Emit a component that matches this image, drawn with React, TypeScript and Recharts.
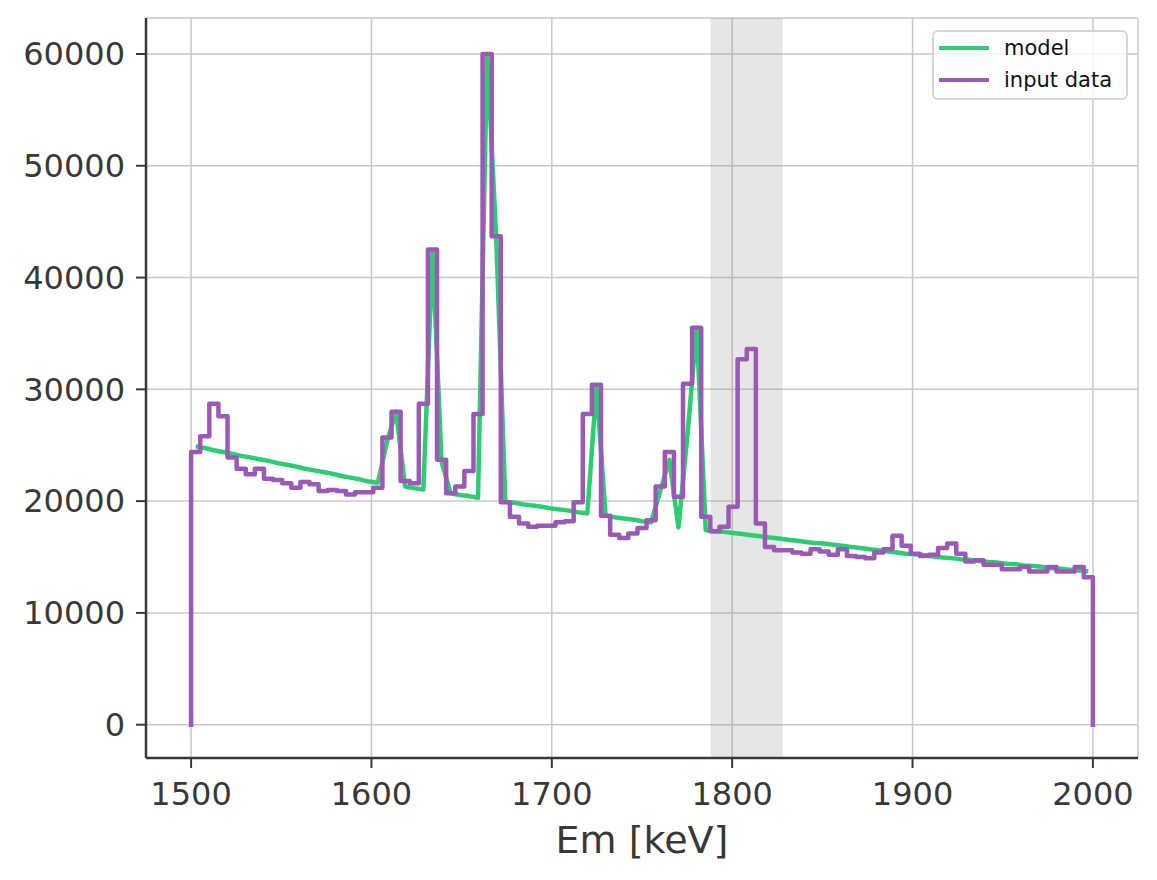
import { LineChart, Line, XAxis, YAxis, CartesianGrid, ReferenceArea } from 'recharts';

// 99 equal bins between 1500 and 2000 keV
const binStart = 1500;
const binEnd = 2000;

const inputCounts = [
  24400, 25800, 28700, 27600, 23900, 22900, 22400, 22900, 22000, 21900,
  21600, 21200, 21700, 21500, 20900, 21000, 20900, 20600, 20800, 20800,
  21200, 25700, 28000, 21800, 21600, 28700, 42500, 23700, 20700, 21300,
  22700, 27800, 60000, 43700, 19900, 18600, 18000, 17700, 17800, 17800,
  18100, 18200, 19900, 27800, 30400, 18700, 17000, 16700, 17100, 17600,
  18300, 21300, 24400, 20400, 30500, 35500, 18600, 17300, 17700, 19500,
  32700, 33600, 18000, 15900, 15600, 15600, 15400, 15300, 15700, 15500,
  15200, 15700, 15100, 15000, 14900, 15400, 15700, 16900, 16000, 15300,
  15100, 15200, 15800, 16200, 15300, 14600, 14700, 14300, 14300, 13900,
  13900, 14100, 13700, 13700, 14100, 13700, 13700, 14100, 13200,
];

const modelCounts = [
  24900, 24750, 24550, 24400, 24250, 24050, 23900, 23750, 23600, 23400,
  23250, 23100, 22900, 22750, 22600, 22450, 22250, 22100, 21950, 21750,
  21650, 25300, 28000, 21300, 21150, 21050, 42300, 23500, 20700, 20550,
  20450, 20300, 60000, 43500, 19950, 19850, 19700, 19600, 19500, 19350,
  19250, 19150, 19000, 18900, 30300, 18700, 18550, 18450, 18350, 18200,
  18100, 20900, 23700, 17650, 26000, 35500, 17400, 17300, 17250, 17150,
  17050, 16950, 16850, 16750, 16650, 16550, 16450, 16350, 16250, 16200,
  16100, 16000, 15900, 15800, 15700, 15600, 15500, 15400, 15300, 15250,
  15150, 15050, 14950, 14900, 14800, 14750, 14650, 14550, 14500, 14400,
  14350, 14250, 14200, 14100, 14000, 13950, 13850, 13800, 13700,
];

const excludedRange = [1788, 1828];
const xTicks = [1500, 1600, 1700, 1800, 1900, 2000];
const yTicks = [0, 10000, 20000, 30000, 40000, 50000, 60000];

const binWidth = (binEnd - binStart) / inputCounts.length;

// histogram outline, closed down to zero on both ends
const inputData = [
  { x: binStart, y: 0 },
  ...inputCounts.map((v, i) => ({ x: binStart + i * binWidth, y: v })),
  { x: binEnd, y: inputCounts[inputCounts.length - 1] },
  { x: binEnd, y: 0 },
];

const modelData = modelCounts.map((v, i) => ({ x: binStart + (i + 0.5) * binWidth, y: v }));

const font = 'DejaVu Sans, sans-serif';
const axisColor = '#383838';

function LegendBox() {
  const items = [
    { name: 'model', color: '#2ecc71' },
    { name: 'input data', color: '#9b59b6' },
  ];
  return (
    <div
      style={{
        position: 'absolute',
        left: 932,
        top: 30,
        width: 192,
        height: 66,
        border: '2px solid #d6d6d6',
        borderRadius: 6,
        background: 'rgba(255,255,255,0.8)',
        fontFamily: font,
        fontSize: 21,
        color: '#111',
      }}
    >
      {items.map((it, i) => (
        <div
          key={it.name}
          style={{ position: 'absolute', left: 5, top: 3 + i * 32, height: 26, display: 'flex', alignItems: 'center' }}
        >
          <div style={{ width: 50, height: 4.5, background: it.color }} />
          <span style={{ marginLeft: 15 }}>{it.name}</span>
        </div>
      ))}
    </div>
  );
}

export default function App() {
  return (
    <div style={{ position: 'absolute', left: 0, top: 0, width: 1157, height: 880, background: '#fff' }}>
      <LineChart width={1157} height={880} margin={{ top: 18, right: 19, bottom: 22, left: 16 }}>
        <CartesianGrid stroke="#c8c8c8" strokeWidth={1.5} />
        <XAxis
          type="number"
          dataKey="x"
          domain={[1475, 2025]}
          ticks={xTicks}
          height={100}
          tickSize={10}
          tickMargin={14}
          stroke={axisColor}
          strokeWidth={2.5}
          tick={{ fill: axisColor, fontSize: 32, fontFamily: font }}
          tickLine={{ stroke: axisColor, strokeWidth: 2 }}
          label={{ value: 'Em [keV]', position: 'insideBottom', offset: 5, fill: axisColor, fontSize: 38, fontFamily: font }}
        />
        <YAxis
          type="number"
          dataKey="y"
          domain={[-2980, 63220]}
          ticks={yTicks}
          width={130}
          tickSize={10}
          tickMargin={11}
          stroke={axisColor}
          strokeWidth={2.5}
          tick={{ fill: axisColor, fontSize: 32, fontFamily: font }}
          tickLine={{ stroke: axisColor, strokeWidth: 2 }}
        />
        <ReferenceArea x1={excludedRange[0]} x2={excludedRange[1]} fill="#808080" fillOpacity={0.2} stroke="none" />
        <Line
          data={modelData}
          dataKey="y"
          type="linear"
          stroke="#2ecc71"
          strokeWidth={4.5}
          dot={false}
          activeDot={false}
          strokeLinejoin="round"
          isAnimationActive={false}
        />
        <Line
          data={inputData}
          dataKey="y"
          type="stepAfter"
          stroke="#9b59b6"
          strokeWidth={4.5}
          dot={false}
          activeDot={false}
          strokeLinejoin="round"
          strokeLinecap="square"
          isAnimationActive={false}
        />
      </LineChart>
      <LegendBox />
    </div>
  );
}
